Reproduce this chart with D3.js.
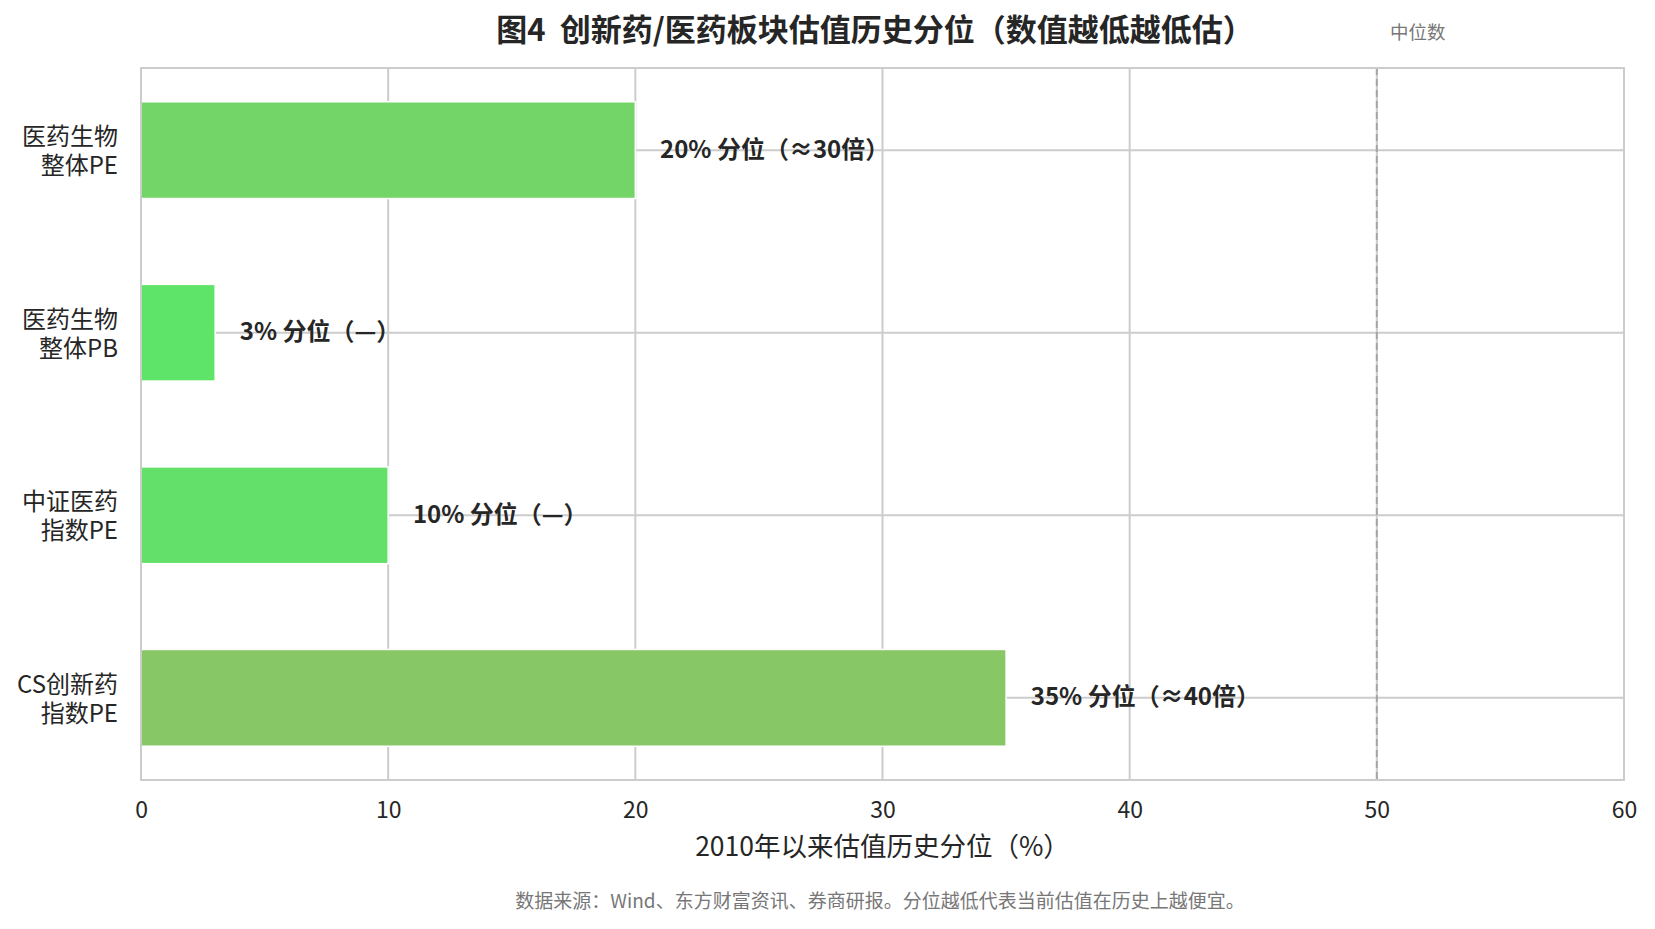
<!DOCTYPE html>
<html>
<head>
<meta charset="utf-8">
<script src="https://cdn.jsdelivr.net/npm/d3@7"></script>
<style>
  body { margin: 0; background: #fff; }
  svg text { font-family: "Noto Sans CJK SC", "Noto Sans", sans-serif; }
</style>
</head>
<body>
<svg id="graph" width="1655" height="929"></svg>
<script>
/*******************************************************************************************/
// Data

var categories = [['医药生物', '整体PE'], ['医药生物', '整体PB'], ['中证医药', '指数PE'], ['CS创新药', '指数PE']];
var percentiles = [20, 3, 10, 35];
var bar_labels = ['20% 分位（≈30倍）', '3% 分位（—）', '10% 分位（—）', '35% 分位（≈40倍）'];
var bar_colors = ['#73d568', '#5fe46a', '#62e06a', '#88c766'];
var x_ticks = [0, 10, 20, 30, 40, 50, 60];
var median_value = 50;

/*******************************************************************************************/
// Graph

var xScale = d3.scaleLinear(), yScale = d3.scaleBand();

function createGraph(){
  var graph = d3.select('#graph');
  var left = 141, right = 1624, top = 68, bottom = 780;

  xScale.domain([0, 60]).range([left, right]);
  yScale.domain(d3.range(categories.length)).range([top, bottom]).paddingInner(0.47).paddingOuter(0.185);

  // grid
  var grid = graph.append('g');
  grid.selectAll('.vgrid').data(x_ticks.filter(d => d > 0 && d < 60)).enter().append('line')
      .attr('x1', d => xScale(d)).attr('x2', d => xScale(d)).attr('y1', top).attr('y2', bottom)
      .style('stroke', '#cccccc').style('stroke-width', 2);
  grid.selectAll('.hgrid').data(d3.range(categories.length)).enter().append('line')
      .attr('x1', left).attr('x2', right)
      .attr('y1', d => yScale(d) + yScale.bandwidth()/2).attr('y2', d => yScale(d) + yScale.bandwidth()/2)
      .style('stroke', '#cccccc').style('stroke-width', 2);

  // median line
  graph.append('line')
      .attr('x1', xScale(median_value)).attr('x2', xScale(median_value)).attr('y1', top).attr('y2', bottom)
      .style('stroke', '#a6a6a6').style('stroke-width', 2).style('stroke-dasharray', '7,4');
  graph.append('text').attr('x', xScale(median_value) + 41).attr('y', 34)
      .style('text-anchor', 'middle').style('dominant-baseline', 'middle')
      .style('font-size', '18.5px').style('fill', '#777').text('中位数');

  // bars
  graph.selectAll('.bar').data(percentiles).enter().append('rect')
      .attr('x', xScale(0)).attr('y', (d, i) => yScale(i))
      .attr('width', d => xScale(d) - xScale(0)).attr('height', yScale.bandwidth())
      .style('fill', (d, i) => bar_colors[i]).style('stroke', '#fff').style('stroke-width', 1.5);

  // bar labels
  graph.selectAll('.bar_label').data(percentiles).enter().append('text')
      .attr('x', d => xScale(d + 1)).attr('y', (d, i) => yScale(i) + yScale.bandwidth()/2 - 3)
      .style('dominant-baseline', 'central').style('font-size', '24px').style('font-weight', 'bold')
      .style('fill', '#262626').text((d, i) => bar_labels[i]);

  // frame
  graph.append('rect').attr('x', left).attr('y', top).attr('width', right - left).attr('height', bottom - top)
      .style('fill', 'none').style('stroke', '#cccccc').style('stroke-width', 2);

  // x axis
  var xAxis = graph.append('g').attr('transform', 'translate(0,' + bottom + ')')
      .call(d3.axisBottom(xScale).tickValues(x_ticks).tickSize(0).tickPadding(22));
  xAxis.select('.domain').remove();
  xAxis.selectAll('text').style('font-size', '23px').style('fill', '#262626')
      .style('font-family', '"Noto Sans CJK SC", sans-serif');

  graph.append('text').attr('x', (left + right)/2).attr('y', 849)
      .style('text-anchor', 'middle').style('dominant-baseline', 'middle')
      .style('font-size', '26.5px').style('fill', '#262626').text('2010年以来估值历史分位（%）');

  // y labels
  var ylab = graph.selectAll('.ylab').data(categories).enter().append('text')
      .attr('transform', (d, i) => 'translate(118,' + (yScale(i) + yScale.bandwidth()/2) + ')')
      .style('text-anchor', 'end').style('font-size', '24px').style('fill', '#262626');
  ylab.append('tspan').attr('x', 0).attr('y', -5).text(d => d[0]);
  ylab.append('tspan').attr('x', 0).attr('y', 24).text(d => d[1]);

  // title
  graph.append('text').attr('x', 875).attr('y', 33)
      .attr('xml:space', 'preserve').style('white-space', 'pre')
      .style('text-anchor', 'middle').style('dominant-baseline', 'middle')
      .style('font-size', '31px').style('font-weight', 'bold').style('fill', '#262626')
      .text('图4  创新药/医药板块估值历史分位（数值越低越低估）');

  // footer
  graph.append('text').attr('x', 880).attr('y', 903)
      .style('text-anchor', 'middle').style('dominant-baseline', 'middle')
      .style('font-size', '19px').style('fill', '#777')
      .text('数据来源：Wind、东方财富资讯、券商研报。分位越低代表当前估值在历史上越便宜。');
}

createGraph();
</script>
</body>
</html>
